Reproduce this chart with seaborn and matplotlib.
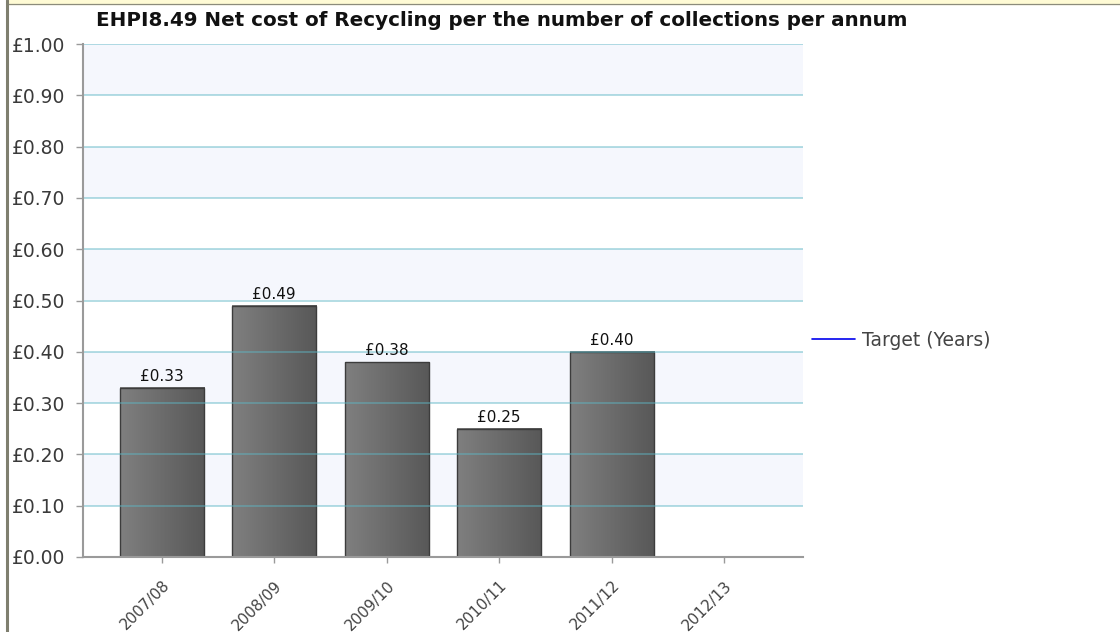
import matplotlib
matplotlib.use('Agg')
import matplotlib.pyplot as plt
import numpy as np
import pandas as pd
import seaborn as sns
from matplotlib.colors import LinearSegmentedColormap
from matplotlib.patches import Rectangle
from matplotlib.lines import Line2D

years = ['2007/08', '2008/09', '2009/10', '2010/11', '2011/12', '2012/13']
net_cost = [0.33, 0.49, 0.38, 0.25, 0.40, np.nan]
target = [np.nan, np.nan, np.nan, np.nan, np.nan, np.nan]
title = 'EHPI8.49 Net cost of Recycling per the number of collections per annum'

df = pd.DataFrame({'year': years, 'cost': net_cost})

sns.set_style('white')
plt.rcParams['font.family'] = ['DejaVu Sans']

fig = plt.figure(figsize=(11.2, 6.32), dpi=100)
ax = fig.add_axes([83 / 1120, 75 / 632, 720 / 1120, 513 / 632])

sns.barplot(data=df, x='year', y='cost', order=years, width=0.75,
            color='#6e6e6e', ax=ax, zorder=1)
bars = list(ax.containers[0])

# alternating bands
for lo in np.arange(0.1, 1.0, 0.2):
    ax.axhspan(lo, lo + 0.1, color='#f5f7fd', zorder=0, lw=0)

grad = LinearSegmentedColormap.from_list('bar', ['#7f7f7f', '#585858'])
g = np.linspace(0, 1, 64).reshape(1, -1)
for p in bars:
    h = p.get_height()
    if not np.isfinite(h) or h == 0:
        continue
    x0 = p.get_x()
    w = p.get_width()
    ax.imshow(g, cmap=grad, extent=(x0, x0 + w, 0, h), aspect='auto', zorder=1)
    p.set_facecolor('none')
    p.set_edgecolor('#3c3c3c')
    p.set_linewidth(1.0)
    p.set_zorder(1.5)
    ax.text(x0 + w / 2, h + 0.008, '£{:.2f}'.format(h), ha='center', va='bottom',
            fontsize=11, color='#111111', zorder=3)

ax.plot(range(len(years)), target, color='#0000ee', lw=1.2, label='Target (Years)')

ax.set_xlim(-0.7, len(years) - 0.3)
ax.set_ylim(0, 1.0)
ax.set_yticks(np.arange(0, 1.01, 0.1))
ax.set_yticklabels(['£{:.2f}'.format(v) for v in np.arange(0, 1.01, 0.1)])
ax.set_xticks(range(len(years)))
ax.set_xticklabels(years, rotation=45, ha='right', va='top', rotation_mode='anchor')
ax.set_xlabel('')
ax.set_ylabel('')

ax.set_axisbelow(False)
ax.yaxis.grid(True, color='#5db6c4', alpha=0.5, lw=1.3, zorder=2)
ax.xaxis.grid(False)

for s in ['top', 'right']:
    ax.spines[s].set_visible(False)
for s in ['left', 'bottom']:
    ax.spines[s].set_color('#9a9a9a')
    ax.spines[s].set_linewidth(1.5)
    ax.spines[s].set_zorder(3)

ax.tick_params(axis='y', left=True, length=5, width=1, color='#9a9a9a',
               labelsize=13.5, labelcolor='#3a3a3a', pad=8)
ax.tick_params(axis='x', bottom=True, length=4, width=1, color='#9a9a9a',
               labelsize=11, labelcolor='#444444', pad=11)

fig.text(502 / 1120, 1 - 21 / 632, title, ha='center', va='center',
         fontsize=14.3, fontweight='bold', color='#111111')

fig.legend(handles=[Line2D([], [], color='#0000ee', lw=1.2)], labels=['Target (Years)'],
           loc='center left', bbox_to_anchor=(812 / 1120, 1 - 340 / 632),
           frameon=False, fontsize=13.5, handlelength=2.3, handletextpad=0.35,
           borderpad=0, borderaxespad=0, labelcolor='#444444')

# frame pieces
fig.patches.append(Rectangle((8 / 1120, 1 - 3.5 / 632), 1, 3.5 / 632,
                             transform=fig.transFigure, color='#fffbd5', zorder=0))
fig.lines.append(Line2D([8 / 1120, 1], [1 - 3.8 / 632] * 2, transform=fig.transFigure,
                        color='#8c8c7c', lw=0.9))
fig.lines.append(Line2D([7 / 1120] * 2, [0, 1], transform=fig.transFigure,
                        color='#7f7f6f', lw=2.2))

fig.savefig('out.png', dpi=100)
